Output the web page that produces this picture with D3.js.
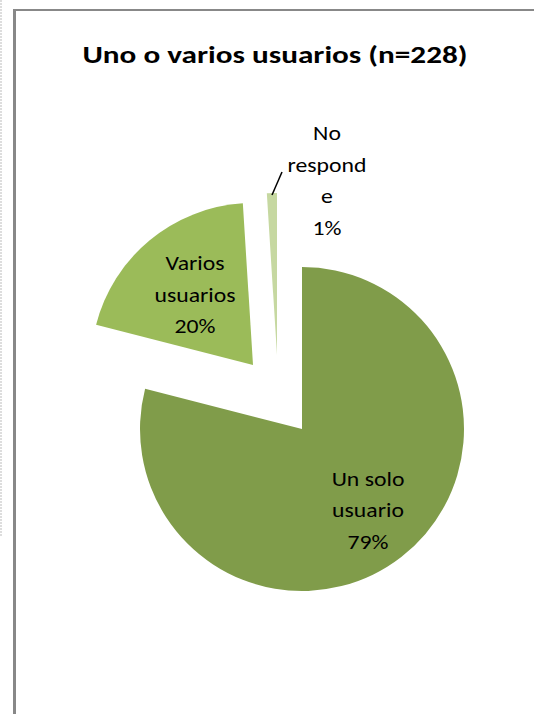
<!DOCTYPE html>
<html>
<head>
<meta charset="utf-8">
<script src="https://cdn.jsdelivr.net/npm/d3@7"></script>
<style>
  body { margin: 0; background: #fff; }
  svg { display: block; }
</style>
</head>
<body>
<script>
var W = 534, H = 714;

// data
var categories = ["Un solo usuario", "Varios usuarios", "No responde"];
var values = [79, 20, 1];
var labelLines = [["Un solo", "usuario", "79%"], ["Varios", "usuarios", "20%"], ["No", "respond", "e", "1%"]];
var title = "Uno o varios usuarios (n=228)";

var colors = ["#809c4a", "#9bbb59", "#c6d8a1"];
var cx = 302, cy = 429, r = 162;
// exploded slice offsets (px)
var offsets = [[0, 0], [-49, -64], [-25, -74]];
// label anchor points relative to centre
var labelPos = [[66, 57], [-107, -159], [25, -289]];

var svg = d3.select('body').append('svg')
    .attr('width', W)
    .attr('height', H);

svg.append('rect').attr('width', W).attr('height', H).attr('fill', '#fff');

// frame
svg.append('line')
    .attr('x1', 1).attr('x2', 1).attr('y1', 0).attr('y2', 536)
    .attr('stroke', '#bbb').attr('stroke-width', 1).attr('stroke-dasharray', '2,1');
svg.append('line')
    .attr('x1', 14.5).attr('x2', 14.5).attr('y1', 9).attr('y2', H)
    .attr('stroke', '#888').attr('stroke-width', 3);
svg.append('line')
    .attr('x1', 13).attr('x2', W).attr('y1', 10).attr('y2', 10)
    .attr('stroke', '#888').attr('stroke-width', 2);

var font = "Carlito, Calibri, Lato, 'Open Sans', sans-serif";

var t = svg.append('text')
    .attr('x', 275)
    .attr('y', 63)
    .attr('text-anchor', 'middle')
    .style('font-family', font)
    .style('font-size', '24px')
    .style('font-weight', 'bold')
    .attr('fill', '#000')
    .text(title);
t.attr('textLength', 385).attr('lengthAdjust', 'spacingAndGlyphs');

var pie = d3.pie().sort(null).value(function (d) { return d; });
var arc = d3.arc().innerRadius(0).outerRadius(r);
var arcs = pie(values);

var g = svg.append('g').attr('transform', 'translate(' + cx + ',' + cy + ')');

g.selectAll('path.slice')
    .data(arcs)
    .enter()
    .append('path')
    .attr('class', 'slice')
    .attr('d', arc)
    .attr('fill', function (d, i) { return colors[i]; })
    .attr('transform', function (d, i) {
        return 'translate(' + offsets[i][0] + ',' + offsets[i][1] + ')';
    });

// leader line for the small slice
g.append('line')
    .attr('x1', -30).attr('y1', -234)
    .attr('x2', -20).attr('y2', -257)
    .attr('stroke', '#000').attr('stroke-width', 1.5);

var lineH = 31.5;
labelLines.forEach(function (lines, i) {
    var txt = g.append('text')
        .attr('text-anchor', 'middle')
        .attr('transform', 'translate(' + labelPos[i][0] + ',0) scale(1.13,1)')
        .style('font-family', font)
        .style('font-size', '21px')
        .attr('fill', '#000');
    lines.forEach(function (s, j) {
        txt.append('tspan')
            .attr('x', 0)
            .attr('y', labelPos[i][1] + j * lineH)
            .text(s);
    });
});
</script>
</body>
</html>
